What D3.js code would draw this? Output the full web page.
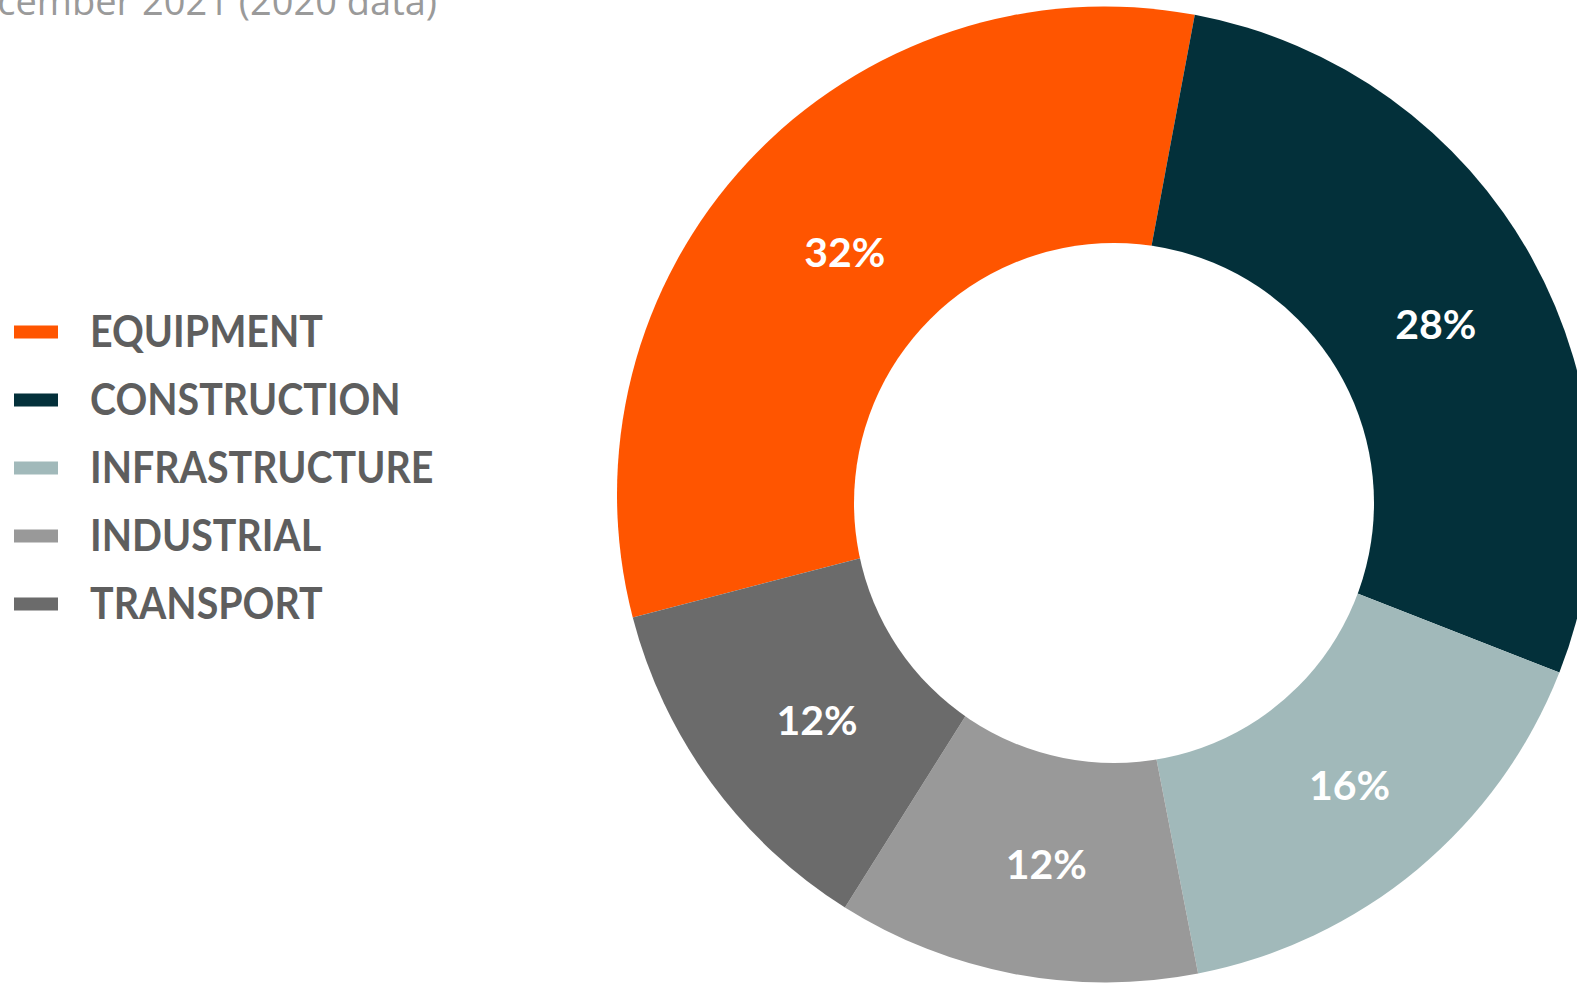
<!DOCTYPE html>
<html>
<head>
<meta charset="utf-8">
<script src="https://cdn.jsdelivr.net/npm/d3@7"></script>
<style>
  html, body { margin: 0; padding: 0; background: #ffffff; overflow: hidden; }
  svg { display: block; }
</style>
</head>
<body>
<svg id="chart" width="1577" height="984"></svg>
<script>
// Sector shares of the total, in percent
const categories = ["EQUIPMENT", "CONSTRUCTION", "INFRASTRUCTURE", "INDUSTRIAL", "TRANSPORT"];
const shares = [32, 28, 16, 12, 12];
const colors = ["#FF5500", "#03303A", "#A1B9BA", "#999999", "#6B6B6B"];
const subtitle = "December 2021 (2020 data)";

const svg = d3.select("#chart");

// Donut geometry
const cx = 1105, cy = 494.5, outerR = 488;
const holeCx = 1114, holeCy = 503, holeR = 260;
const startDeg = 255.4;

const data = categories.map((c, i) => ({ name: c, value: shares[i], color: colors[i] }));

const pie = d3.pie()
  .sort(null)
  .value(d => d.value)
  .startAngle(startDeg * Math.PI / 180)
  .endAngle(startDeg * Math.PI / 180 + 2 * Math.PI);

const arcs = pie(data);

const arc = d3.arc().innerRadius(0).outerRadius(outerR);
// label ring measured from the hole centre
const labelArc = d3.arc().innerRadius(holeR).outerRadius(476);

const g = svg.append("g").attr("transform", `translate(${cx},${cy})`);

g.selectAll("path.slice")
  .data(arcs)
  .join("path")
  .attr("class", "slice")
  .attr("d", arc)
  .attr("fill", d => d.data.color);

// centre hole
svg.append("circle")
  .attr("cx", holeCx).attr("cy", holeCy).attr("r", holeR)
  .attr("fill", "#ffffff");

// percentage labels
svg.append("g")
  .attr("transform", `translate(${holeCx},${holeCy})`)
  .selectAll("text.pct")
  .data(arcs)
  .join("text")
  .attr("class", "pct")
  .attr("transform", d => {
    const [x, y] = labelArc.centroid(d);
    return `translate(${x},${y})`;
  })
  .attr("text-anchor", "middle")
  .attr("dy", "0.36em")
  .attr("fill", "#ffffff")
  .style("font-family", "Lato, 'Open Sans', sans-serif")
  .style("font-weight", 700)
  .style("font-size", "41px")
  .text(d => `${d.data.value}%`);

// legend
const legend = svg.append("g").attr("transform", "translate(14,332)");
const rowStep = 68;
const rows = legend.selectAll("g.row")
  .data(data)
  .join("g")
  .attr("class", "row")
  .attr("transform", (d, i) => `translate(0,${i * rowStep})`);

rows.append("rect")
  .attr("x", 0).attr("y", -6.5)
  .attr("width", 44).attr("height", 13)
  .attr("fill", d => d.color);

rows.append("text")
  .attr("transform", "translate(76,15) scale(0.895,1)")
  .attr("fill", "#5E5E5E")
  .style("font-family", "Lato, 'Open Sans', sans-serif")
  .style("font-weight", 700)
  .style("font-size", "44px")
  .text(d => d.name);

// subtitle (runs off the top-left edge)
svg.append("text")
  .attr("x", 437).attr("y", 15)
  .attr("text-anchor", "end")
  .attr("fill", "#9A9A9A")
  .style("font-family", "'Open Sans', Lato, sans-serif")
  .style("font-weight", 400)
  .style("font-size", "38px")
  .text(subtitle);
</script>
</body>
</html>
